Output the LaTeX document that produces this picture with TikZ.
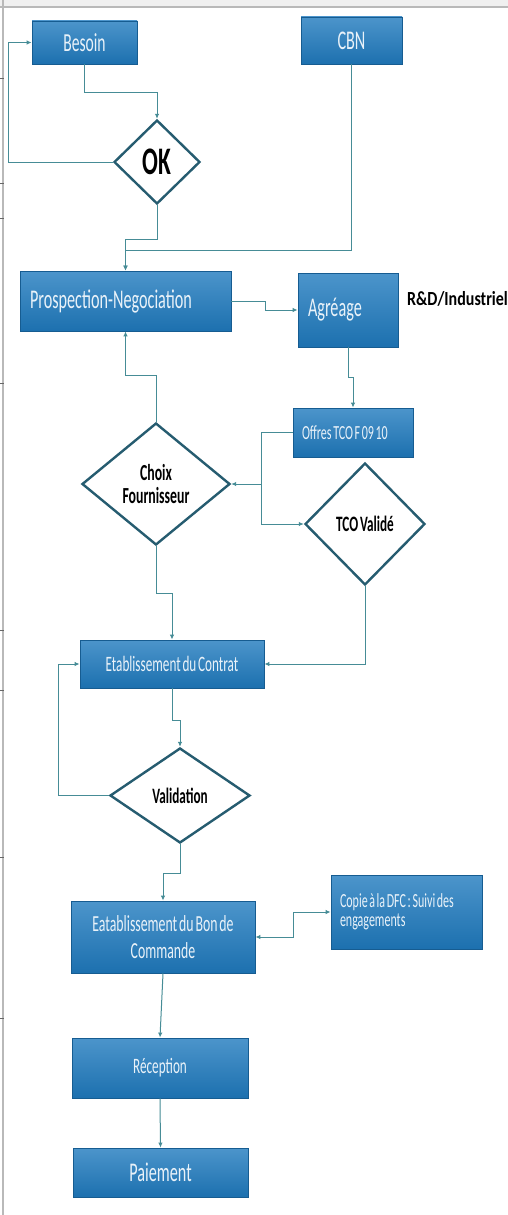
\documentclass[tikz,border=0pt]{standalone}
\usepackage{fontspec}
\setmainfont{Carlito}
\newfontfamily\cf[FakeStretch=0.6,WordSpace=0.6]{Carlito}
\newfontfamily\cfr[FakeStretch=0.8]{Carlito}
\usetikzlibrary{shapes.geometric,arrows.meta}
\definecolor{boxblue}{RGB}{31,122,190}
\definecolor{boxedge}{RGB}{22,92,145}
\definecolor{conn}{RGB}{70,140,150}
\definecolor{dia}{RGB}{38,92,112}
\newcommand{\fsz}[2]{\fontsize{#1}{#2}\selectfont}
\newcommand{\nsp}{\spaceskip=0pt\xspaceskip=0pt\relax}
\tikzset{
  box/.style={draw=boxedge, line width=0.8pt, top color=boxblue!80!white, bottom color=boxblue!92!black,
    text=white!90!boxblue, inner sep=2pt, align=center},
  dec/.style={diamond, draw=dia, line width=2.4pt, fill=white, inner sep=0pt, text=black, align=center},
  arr/.style={draw=conn, line width=1pt, -{Latex[length=5pt,width=4.5pt]}},
  arrb/.style={draw=conn, line width=1pt, {Latex[length=5pt,width=4.5pt]}-{Latex[length=5pt,width=4.5pt]}},
  frameln/.style={draw=gray!55, line width=1.2pt},
  tick/.style={draw=gray!80!black, line width=1pt}
}
\begin{document}
\begin{tikzpicture}[x=1pt,y=-1pt]
\useasboundingbox (0,0) rectangle (508,1215);
\fill[white] (0,0) rectangle (508,1215);
% frame
\fill[gray!12] (0,0) rectangle (508,6);
\draw[frameln, line width=2pt] (0,7) -- (508,7);
\draw[frameln] (3,0) -- (3,1215);
\foreach \t in {78,183,218,383,630,690,857,1018}
  \draw[tick] (0,\t) -- (4,\t);

% boxes
\node[box, minimum width=105pt, minimum height=43pt, font={\cf\fsz{26}{28}}] (Besoin) at (84.5,42.5) {Besoin};
\node[box, minimum width=101pt, minimum height=47pt, font={\cf\fsz{27}{29}}] (CBN) at (351.5,40.5) {CBN};
\node[box, minimum width=211pt, minimum height=60pt, text width=191pt, align=left, inner xsep=9pt, font={\cf\fsz{27}{29}}] (Prosp) at (125.5,301) {\nsp\raisebox{-5pt}{\mbox{Prospection-Negociation}}};
\node[box, minimum width=100pt, minimum height=74pt, text width=80pt, align=left, inner xsep=9pt, font={\cf\fsz{27}{29}}] (Agr) at (348,310) {\nsp\raisebox{-12pt}{\mbox{Agréage}}};
\node[box, minimum width=120pt, minimum height=49pt, text width=102pt, align=left, inner xsep=8pt, font={\cf\fsz{20}{22}}] (Offres) at (353,432.5) {\nsp\raisebox{-4pt}{\mbox{Offres TCO F 09 10}}};
\node[box, minimum width=184pt, minimum height=48pt, font={\cf\fsz{22}{24}}] (Contrat) at (172,664) {Etablissement du Contrat};
\node[box, minimum width=184pt, minimum height=72pt, font={\cf\fsz{23}{27}}] (Bon) at (163,937) {Eatablissement du Bon de\\Commande};
\node[box, minimum width=151pt, minimum height=74pt, text width=133pt, align=left, inner xsep=8pt, font={\cf\fsz{20}{21}}] (Copie) at (406.5,912) {\nsp\raisebox{-2pt}{\mbox{Copie à la DFC : Suivi des}}\\\mbox{engagements}};
\node[box, minimum width=176pt, minimum height=60pt, font={\cf\fsz{22}{24}}] (Recep) at (160,1068) {Réception};
\node[box, minimum width=175pt, minimum height=49pt, font={\cf\fsz{27}{29}}] (Paie) at (160.5,1172.5) {Paiement};

\node[anchor=west, inner sep=0pt, font={\cfr\bfseries\fsz{20}{22}}, text=black] (RD) at (407,299) {R\&D/Industriel};

% decisions
\node[dec, minimum width=86pt, minimum height=84pt, aspect=1, font={\cf\bfseries\fsz{39}{40}}] (OK) at (157,162) {OK};
\node[dec, minimum width=148pt, minimum height=122pt, aspect=1.2, font={\cf\bfseries\fsz{23}{23}}] (Choix) at (156,484) {Choix\\Fournisseur};
\node[dec, minimum width=120pt, minimum height=122pt, aspect=1, font={\cf\bfseries\fsz{22}{24}}] (TCO) at (365,524) {TCO Validé};
\node[dec, minimum width=140pt, minimum height=95pt, aspect=1.5, font={\cf\bfseries\fsz{22}{24}}] (Val) at (180,795.5) {Validation};

% connectors
\draw[arr] (Besoin.south) -- ++(0,28) -| (OK.north);
\draw[arr] (OK.west) -- ++(-104,0) |- (Besoin.west);
\draw[arr] (OK.south) -- ++(0,34) -| (Prosp.north);
\draw[arr] (CBN.south) -- ++(0,186) -| (Prosp.north);
\draw[arr] (Prosp.east) -- ++(34,0) |- (Agr.west);
\draw[arr] (Agr.south) -- ++(0,30) -| (Offres.north);
\draw[arr] (Offres.west) -- ++(-31,0) |- (Choix.east);
\draw[arr] (Offres.west) -- ++(-31,0) |- (TCO.west);
\draw[arr] (Choix.north) -- ++(0,-46) -| (Prosp.south);
\draw[arr] (Choix.south) -- ++(0,47) -| (Contrat.north);
\draw[arr] (TCO.south) |- (Contrat.east);
\draw[arr] (Contrat.south) -- ++(0,32) -| (Val.north);
\draw[arr] (Val.west) -- ++(-50,0) |- (Contrat.west);
\draw[arr] (Val.south) -- ++(0,29) -| (Bon.north);
\draw[arrb] (Bon.east) -- ++(38,0) |- (Copie.west);
\draw[arr] (Bon.south) -- (Recep.north);
\draw[arr] (Recep.south) -- (Paie.north);
\end{tikzpicture}
\end{document}
